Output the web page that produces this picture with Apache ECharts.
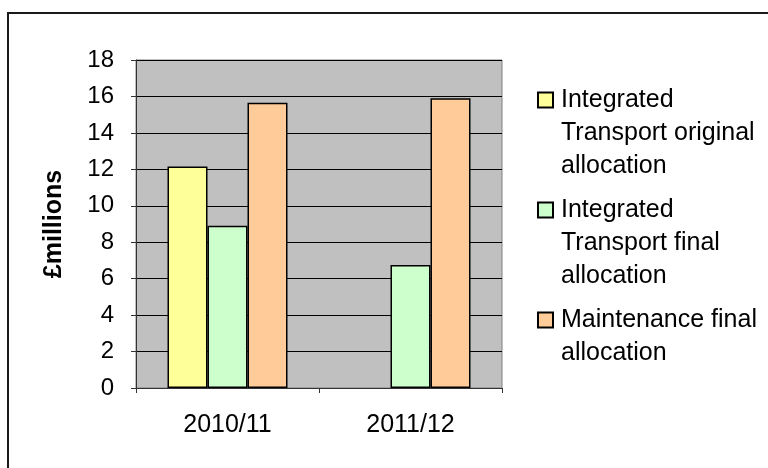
<!DOCTYPE html>
<html>
<head>
<meta charset="utf-8">
<script src="https://cdn.jsdelivr.net/npm/echarts@6/dist/echarts.min.js"></script>
<style>
html,body{margin:0;padding:0;background:#fff;}
#chart{width:768px;height:468px;}
</style>
</head>
<body>
<div id="chart"></div>
<script>
const categories = ['2010/11', '2011/12'];
const seriesNames = [
  'Integrated Transport original allocation',
  'Integrated Transport final allocation',
  'Maintenance final allocation'
];
const itOriginal = [12.15, null];
const itFinal = [8.9, 6.75];
const maintFinal = [15.65, 15.9];
const yTicks = { min: 0, max: 18, interval: 2 };
const legendLines = {
  'Integrated Transport original allocation': 'Integrated\nTransport original\nallocation',
  'Integrated Transport final allocation': 'Integrated\nTransport final\nallocation',
  'Maintenance final allocation': 'Maintenance final\nallocation'
};
const colors = ['#FFFF99', '#CCFFCC', '#FFCC99'];

const FONT = "'Liberation Sans', Arial, sans-serif";
const LH = 33;

const chart = echarts.init(document.getElementById('chart'));

// Legend text is vertically centred on the icon by ECharts; pad with blank
// lines so that the first text line sits next to the icon.
function makeLegend(name, iconCenterY) {
  const lines = legendLines[name].split('\n');
  const pad = lines.length - 1;
  const total = lines.length + pad;
  return {
    data: [name],
    left: 537,
    top: iconCenterY - total * LH / 2,
    padding: 0,
    itemWidth: 15,
    itemHeight: 15,
    icon: 'rect',
    formatter: n => {
      const ls = legendLines[n].split('\n').map(s => '{t|' + s + '}');
      return '{t|}\n'.repeat(pad) + ls.join('\n');
    },
    textStyle: {
      fontFamily: FONT,
      fontSize: 25,
      color: '#000',
      lineHeight: LH,
      rich: {
        t: { fontFamily: FONT, fontSize: 25, color: '#000', lineHeight: LH, padding: [0, 0, 0, 3] }
      }
    }
  };
}

const data = [itOriginal, itFinal, maintFinal];

chart.setOption({
  animation: false,
  textStyle: { fontFamily: FONT },
  graphic: [{
    type: 'rect',
    shape: { x: 8, y: 13, width: 800, height: 500 },
    style: { fill: 'none', stroke: '#1a1a1a', lineWidth: 2 },
    silent: true
  }],
  grid: {
    left: 136, right: 266, top: 60, bottom: 80,
    show: true,
    backgroundColor: '#C0C0C0',
    borderColor: '#808080',
    borderWidth: 1
  },
  legend: [
    makeLegend(seriesNames[0], 100),
    makeLegend(seriesNames[1], 210),
    makeLegend(seriesNames[2], 320)
  ],
  xAxis: {
    type: 'category',
    data: categories,
    boundaryGap: true,
    axisLine: { lineStyle: { color: '#333', width: 1 } },
    axisTick: { show: true, length: 5, inside: false, lineStyle: { color: '#333' } },
    axisLabel: { fontFamily: FONT, fontSize: 25, color: '#000', margin: 25 },
    splitLine: { show: false }
  },
  yAxis: {
    type: 'value',
    min: yTicks.min, max: yTicks.max, interval: yTicks.interval,
    name: '£millions',
    nameLocation: 'middle',
    nameRotate: 90,
    nameGap: 69,
    nameTextStyle: { fontFamily: FONT, fontSize: 25, fontWeight: 'bold', color: '#000' },
    axisLine: { show: true, lineStyle: { color: '#333', width: 1 } },
    axisTick: { show: true, length: 5, inside: false, lineStyle: { color: '#333' } },
    axisLabel: { fontFamily: FONT, fontSize: 24, color: '#000', margin: 22 },
    splitLine: { show: true, lineStyle: { color: '#000', width: 1 } }
  },
  series: seriesNames.map((name, i) => ({
    name: name,
    type: 'bar',
    data: data[i],
    barWidth: 40,
    barGap: '0%',
    itemStyle: { color: colors[i], borderColor: '#000', borderWidth: 1.5 }
  }))
});
</script>
</body>
</html>
